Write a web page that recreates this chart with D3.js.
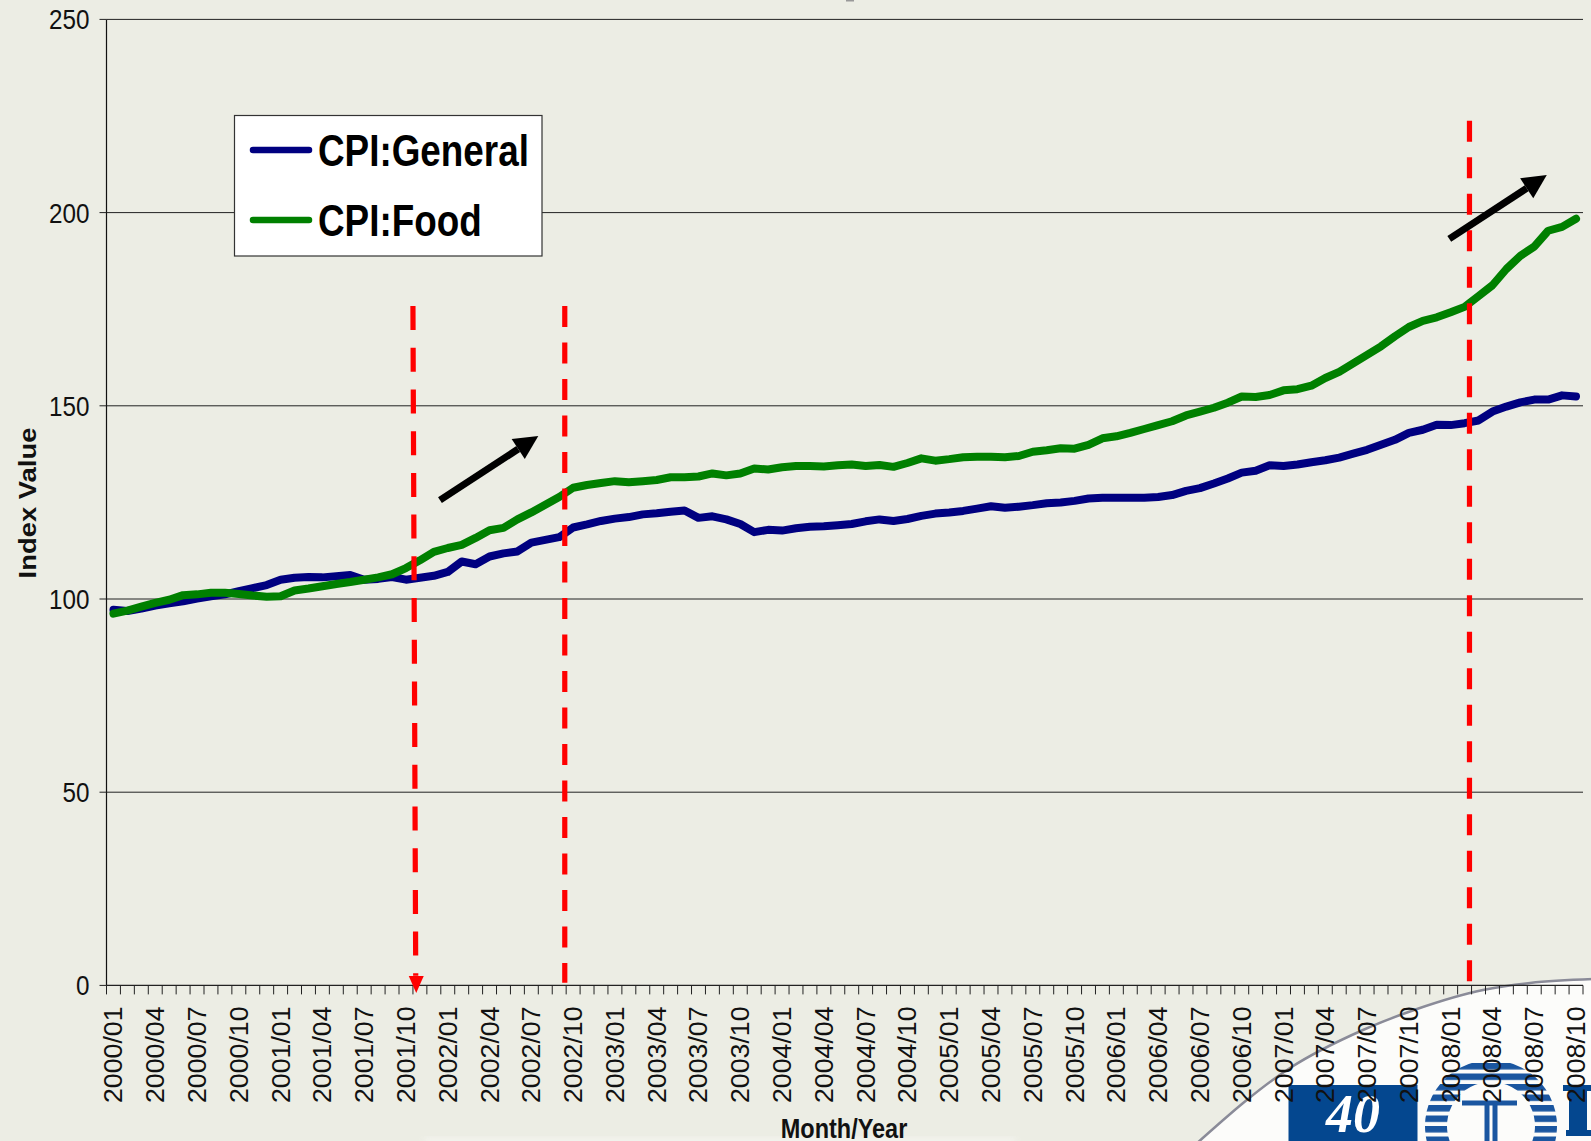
<!DOCTYPE html>
<html><head><meta charset="utf-8">
<script src="https://cdnjs.cloudflare.com/ajax/libs/d3/7.8.5/d3.min.js"></script>
<style>html,body{margin:0;padding:0;background:#ecede4;overflow:hidden}svg{display:block}text{font-family:"Liberation Sans",Arial,sans-serif}</style>
</head><body><script>
const years = [2000,2001,2002,2003,2004,2005,2006,2007,2008];
const months = years.flatMap(y => d3.range(1,13).map(m => y + "/" + String(m).padStart(2,"0"))).slice(0,106);
const general = [97.2,96.9,97.5,98.3,98.9,99.4,100.1,100.7,101.2,102,102.8,103.6,105,105.5,105.7,105.6,105.9,106.2,105,105.2,105.7,105,105.5,106,107,109.7,109,111,111.8,112.3,114.6,115.3,116,118.5,119.3,120.2,120.8,121.2,121.9,122.2,122.6,122.9,121,121.4,120.6,119.4,117.3,117.9,117.7,118.3,118.7,118.8,119.1,119.4,120.1,120.6,120.2,120.7,121.5,122.1,122.4,122.8,123.4,124,123.6,123.9,124.3,124.8,125,125.4,126,126.2,126.2,126.2,126.2,126.4,126.9,128,128.7,129.9,131.2,132.7,133.2,134.6,134.4,134.8,135.4,135.9,136.6,137.6,138.6,139.9,141.2,143,143.8,145.1,145,145.5,146.2,148.5,149.8,150.9,151.6,151.6,152.7,152.4];
const food = [96.2,97,98,99,99.8,101,101.2,101.6,101.6,101.3,100.9,100.6,100.7,102.2,102.7,103.3,103.9,104.4,105,105.6,106.4,108,110,112.2,113.2,114,115.8,117.8,118.4,120.6,122.4,124.4,126.4,128.8,129.5,130,130.5,130.2,130.5,130.8,131.5,131.5,131.7,132.5,132,132.5,133.8,133.5,134.1,134.4,134.4,134.3,134.6,134.8,134.4,134.7,134.2,135.2,136.4,135.8,136.2,136.7,136.8,136.8,136.7,137,138.1,138.5,139,138.9,139.9,141.6,142.1,143,144,145,146,147.5,148.5,149.5,150.8,152.4,152.3,152.8,154,154.3,155.2,157.2,158.8,161,163.2,165.4,168,170.4,172,172.9,174.2,175.6,178.4,181.2,185.4,188.8,191.2,195.3,196.3,198.4];
const yTicks = [0,50,100,150,200,250];
const seriesNames = ["CPI:General","CPI:Food"];
const seriesColors = ["#000080","#008000"];
const yTitle = "Index Value", xTitle = "Month/Year";
// annotations in data space: [month position, value]
const dropLines = [{from:[22.0,175.8],to:[22.2,2.5],dash:"24 17.7"},{from:[32.9,175.8],to:[32.9,0.7],dash:"21 15.5"},{from:[97.85,223.8],to:[97.85,1],dash:"21 15.5"}];
const arrows = [{from:[23.94,125.6],to:[31.0,142.2]},{from:[96.4,193.2],to:[103.4,209.7]}];
const swoosh = [[1195,1145],[1290,1068],[1363,1030],[1417,1009],[1483,990],[1530,983],[1595,979]];

const W=1591,H=1141,L=106.5,R=1583,T=19.4,B=985.4;
const svg=d3.select("body").append("svg").attr("width",W).attr("height",H);
const defs=svg.append("defs");
svg.append("rect").attr("width",W).attr("height",H).attr("fill","#ecede4");
defs.append("filter").attr("id","soft").append("feGaussianBlur").attr("stdDeviation",3);
defs.append("filter").attr("id","soft1").append("feGaussianBlur").attr("stdDeviation",.6);
const stripes=defs.append("pattern").attr("id","stripes").attr("patternUnits","userSpaceOnUse").attr("width",10).attr("height",10.5);
stripes.append("rect").attr("width",10).attr("height",6.5).attr("fill","#1a56a0");

// top edge: foot of a title cut off by the slide
svg.append("rect").attr("x",846).attr("y",0).attr("width",8).attr("height",1.5).attr("fill","#999");

// slide background, corner of the template
const deco=svg.append("g");
const sw=d3.line().curve(d3.curveMonotoneX);
deco.append("path").attr("d",sw(swoosh)+"L1595 1145Z").attr("fill","#fcfcfa");
deco.append("path").attr("d",sw(swoosh)).attr("fill","none").attr("stroke","#8a8b98").attr("stroke-width",2.5).attr("filter","url(#soft1)");
deco.append("rect").attr("x",1288.5).attr("y",1085).attr("width",129).attr("height",56).attr("fill","#04478f");
deco.append("text").attr("x",1353).attr("y",1132).attr("text-anchor","middle").attr("fill","#fff").style("font-family","'Liberation Serif'").style("font-style","italic").style("font-weight","bold").style("font-size","54px").text("40");
const emblem=deco.append("g");
emblem.append("path").attr("d",d3.arc()({innerRadius:44,outerRadius:66,startAngle:-Math.PI*.62,endAngle:Math.PI*.62})).attr("transform","translate(1491,1126)").attr("fill","url(#stripes)");
emblem.append("path").attr("d","M1462 1103 H1517 M1487 1103 V1141 M1495 1103 V1141").attr("stroke","#1a56a0").attr("stroke-width",5).attr("fill","none");
deco.append("path").attr("d","M1563 1088 H1591 M1566 1133 H1591").attr("stroke","#04478f").attr("stroke-width",6).attr("fill","none");
deco.append("path").attr("d","M1578 1088 V1133").attr("stroke","#04478f").attr("stroke-width",18).attr("fill","none");
// faint footer smudge of the slide
deco.append("rect").attr("x",425).attr("y",1137).attr("width",590).attr("height",8).attr("fill","#f6f6f2").attr("opacity",.7).attr("filter","url(#soft)");

const x=d3.scaleBand().domain(d3.range(months.length)).range([L,R]);
const xv=d3.scaleLinear().domain([0,months.length]).range([L,R]);
const y=d3.scaleLinear().domain([0,250]).range([B,T]);
const xc=i=>x(i)+x.bandwidth()/2;

// gridlines
svg.append("g").selectAll("line").data(yTicks.filter(d=>d>0)).join("line")
 .attr("x1",L).attr("x2",R).attr("y1",y).attr("y2",y).attr("stroke","#222").attr("stroke-width",1);
// y axis
const ya=svg.append("g");
ya.append("line").attr("x1",L).attr("x2",L).attr("y1",T).attr("y2",B).attr("stroke","#111").attr("stroke-width",1.2);
ya.selectAll("line.t").data(yTicks).join("line").attr("class","t").attr("x1",L-7).attr("x2",L).attr("y1",y).attr("y2",y).attr("stroke","#222");
ya.selectAll("text").data(yTicks).join("text").attr("text-anchor","end")
 .attr("transform",d=>`translate(${L-17},${y(d)+10}) scale(.97,1.12)`).style("font-size","25px").attr("fill","#111").text(d=>d);
// x axis
const xa=svg.append("g");
xa.append("line").attr("x1",L).attr("x2",R).attr("y1",B).attr("y2",B).attr("stroke","#222").attr("stroke-width",1.2);
xa.selectAll("line.t").data(d3.range(months.length+1)).join("line").attr("class","t")
 .attr("x1",d=>xv(d)).attr("x2",d=>xv(d)).attr("y1",B).attr("y2",B+9).attr("stroke","#222");
xa.selectAll("text").data(months.filter((d,i)=>i%3===0)).join("text").attr("text-anchor","end")
 .attr("transform",d=>`translate(${xc(months.indexOf(d))+9},${B+21}) scale(1,1.07) rotate(-90)`)
 .style("font-size","25px").attr("fill","#111").text(d=>d);
// titles
svg.append("text").attr("text-anchor","middle").attr("transform",`translate(36,503) scale(1,1.12) rotate(-90)`).style("font-size","24.5px").style("font-weight","bold").attr("fill","#111").text(yTitle);
svg.append("text").attr("text-anchor","middle").attr("transform",`translate(844,1138) scale(1,1.2)`).style("font-size","23.5px").style("font-weight","bold").attr("fill","#111").text(xTitle);

// series
const line=d3.line().x((d,i)=>xc(i)).y(d=>y(d));
[general,food].forEach((s,k)=>svg.append("path").datum(s).attr("d",line).attr("fill","none").attr("stroke",seriesColors[k]).attr("stroke-width",8).attr("stroke-linecap","round").attr("stroke-linejoin","round"));

// annotations
svg.append("g").selectAll("line").data(dropLines).join("line")
 .attr("x1",d=>xv(d.from[0])).attr("y1",d=>y(d.from[1])).attr("x2",d=>xv(d.to[0])).attr("y2",d=>y(d.to[1]))
 .attr("stroke","#ff0000").attr("stroke-width",5.2).attr("stroke-dasharray",d=>d.dash);
const d0=dropLines[0].to, d0x=xv(d0[0])+.5;
svg.append("path").attr("d",`M${d0x-7.5} ${y(0)-9.5} H${d0x+7.5} L${d0x} ${y(0)+7.5} Z`).attr("fill","#ff0000");
arrows.forEach(a=>{
 const x1=xv(a.from[0]),y1=y(a.from[1]),x2=xv(a.to[0]),y2=y(a.to[1]);
 const t=Math.atan2(y2-y1,x2-x1),len=24,hw=12;
 const bx=x2-len*Math.cos(t),by=y2-len*Math.sin(t);
 svg.append("line").attr("x1",x1).attr("y1",y1).attr("x2",bx).attr("y2",by).attr("stroke","#000").attr("stroke-width",7);
 svg.append("path").attr("d",`M${x2} ${y2} L${bx-hw*Math.sin(t)} ${by+hw*Math.cos(t)} L${bx+hw*Math.sin(t)} ${by-hw*Math.cos(t)} Z`).attr("fill","#000");
});

// legend
const lg=svg.append("g");
lg.append("rect").attr("x",234.5).attr("y",115.5).attr("width",307.5).attr("height",140.5).attr("fill","#fff").attr("stroke","#333").attr("stroke-width",1.2);
seriesNames.forEach((n,k)=>{
 const ly=150+k*70;
 lg.append("line").attr("x1",253).attr("x2",309).attr("y1",ly).attr("y2",ly).attr("stroke",seriesColors[k]).attr("stroke-width",6.5).attr("stroke-linecap","round");
 lg.append("text").attr("transform",`translate(318,${ly+16}) scale(1.1,1.33)`).style("font-size","33.5px").style("font-weight","bold").attr("fill","#000").text(n);
});
</script></body></html>
